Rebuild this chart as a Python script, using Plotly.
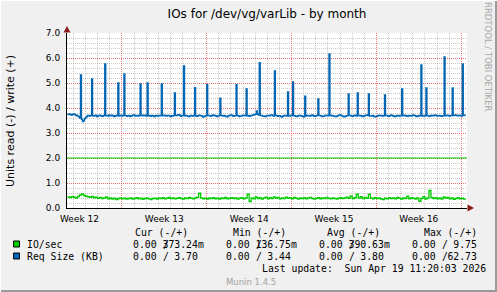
import pandas as pd
import plotly.graph_objects as go

# ---------------- data ----------------
TITLE = "IOs for /dev/vg/varLib - by month"
Y_TITLE = "Units read (-) / write (+)"
FIRST_SAMPLE = "2026-03-17 12:00"
REQ_FREQ = "2h"
IO_FREQ = "4h"
X_RANGE = ["2026-03-17 11:20", "2026-04-19 11:20"]

week_labels = ["Week 12", "Week 13", "Week 14", "Week 15", "Week 16"]
week_label_pos = ["2026-03-18 12:00", "2026-03-25 12:00", "2026-04-01 12:00",
                  "2026-04-08 12:00", "2026-04-15 12:00"]
week_starts = ["2026-03-22", "2026-03-29", "2026-04-05", "2026-04-12", "2026-04-19"]
y_ticks = [0, 1, 2, 3, 4, 5, 6, 7]

req_size_write = [
    3.74, 3.75, 3.76, 3.73, 3.72, 3.75, 3.76, 3.74, 3.70, 3.71,
    3.68, 3.66, 3.60, 5.32, 3.55, 3.46, 3.50, 3.58, 3.62, 3.66,
    3.70, 3.69, 3.68, 3.70, 5.16, 3.69, 3.68, 3.70, 3.71, 3.66,
    3.68, 3.70, 3.71, 3.69, 3.67, 3.68, 3.70, 5.76, 3.70, 3.69,
    3.68, 3.72, 3.70, 3.69, 3.71, 3.69, 3.66, 3.68, 3.70, 3.69,
    5.00, 3.68, 3.70, 3.71, 3.68, 3.70, 5.36, 3.70, 3.69, 3.67,
    3.69, 3.70, 3.66, 3.68, 3.70, 3.72, 3.71, 3.68, 3.69, 3.70,
    3.68, 3.70, 4.96, 3.70, 3.71, 3.69, 3.70, 3.71, 3.68, 5.00,
    3.69, 3.70, 3.67, 3.69, 3.70, 3.68, 3.66, 3.69, 3.70, 3.68,
    3.70, 3.69, 3.70, 4.96, 3.69, 3.70, 3.71, 3.69, 3.68, 3.70,
    3.70, 3.68, 3.66, 3.69, 3.68, 3.70, 4.60, 3.70, 3.70, 3.72,
    3.73, 3.71, 3.67, 3.69, 3.70, 5.68, 3.69, 3.70, 3.69, 3.67,
    3.66, 3.68, 3.70, 3.69, 3.68, 3.70, 4.81, 3.68, 3.67, 3.69,
    3.71, 3.70, 3.69, 3.68, 3.64, 3.66, 3.68, 3.69, 4.93, 3.70,
    3.70, 3.69, 3.67, 3.70, 3.72, 3.71, 3.69, 3.68, 3.66, 3.68,
    3.70, 4.39, 3.70, 3.69, 3.68, 3.70, 3.68, 3.66, 3.65, 3.68,
    3.70, 3.71, 3.72, 3.70, 3.67, 3.69, 3.69, 4.93, 3.70, 3.69,
    3.66, 3.68, 3.68, 3.70, 3.71, 3.70, 3.69, 4.76, 3.69, 3.70,
    3.67, 3.69, 3.70, 3.71, 3.72, 3.74, 3.75, 3.88, 3.76, 3.72,
    5.81, 3.70, 3.70, 3.68, 3.68, 3.66, 3.66, 3.70, 3.70, 3.69,
    3.69, 3.72, 3.72, 3.70, 3.68, 5.48, 3.70, 3.70, 3.67, 3.69,
    3.69, 3.66, 3.64, 3.67, 3.70, 3.69, 3.70, 3.68, 4.64, 3.68,
    3.68, 3.71, 3.70, 5.04, 3.69, 3.69, 3.67, 3.66, 3.68, 3.70,
    3.70, 3.69, 3.68, 3.66, 3.65, 4.47, 3.68, 3.70, 3.70, 3.69,
    3.68, 3.70, 3.72, 3.70, 3.67, 3.68, 3.69, 3.70, 4.36, 3.70,
    3.70, 3.68, 3.66, 3.67, 3.68, 3.70, 3.71, 3.70, 3.69, 6.16,
    3.70, 3.69, 3.70, 3.68, 3.68, 3.66, 3.66, 3.69, 3.70, 3.72,
    3.72, 3.70, 3.68, 3.66, 3.65, 3.67, 3.69, 3.70, 4.56, 3.70,
    3.70, 3.68, 3.67, 3.69, 3.71, 3.70, 3.68, 4.60, 3.70, 3.69,
    3.70, 3.68, 3.66, 3.68, 3.69, 3.71, 3.72, 3.70, 4.56, 3.68,
    3.68, 3.69, 3.70, 3.67, 3.65, 3.66, 3.67, 3.69, 3.71, 3.70,
    3.69, 3.70, 3.68, 3.69, 4.52, 3.70, 3.70, 3.68, 3.67, 3.69,
    3.72, 3.71, 3.69, 3.67, 3.66, 3.68, 3.70, 3.69, 3.68, 3.70,
    3.69, 4.76, 3.69, 3.70, 3.71, 3.69, 3.67, 3.68, 3.70, 3.69,
    3.68, 3.70, 3.72, 3.71, 3.69, 3.67, 3.66, 3.68, 3.70, 3.69,
    5.72, 3.68, 3.69, 3.70, 3.68, 4.80, 3.70, 3.69, 3.67, 3.68,
    3.71, 3.70, 3.69, 3.70, 3.72, 3.70, 3.68, 3.69, 3.70, 3.69,
    3.67, 3.68, 3.69, 6.04, 3.69, 3.70, 3.71, 3.70, 3.68, 3.69,
    3.70, 4.80, 3.70, 3.71, 3.72, 3.70, 3.69, 3.70, 3.71, 3.69,
    3.68, 5.76, 3.70, 3.71, 3.70,
]

io_sec_write = [
    0.44, 0.42, 0.45, 0.43, 0.40, 0.46, 0.52, 0.56, 0.50, 0.47,
    0.45, 0.43, 0.46, 0.41, 0.43, 0.39, 0.42, 0.38, 0.40, 0.44,
    0.37, 0.40, 0.36, 0.39, 0.34, 0.38, 0.40, 0.37, 0.39, 0.36,
    0.38, 0.40, 0.36, 0.38, 0.41, 0.37, 0.39, 0.35, 0.38, 0.40,
    0.37, 0.34, 0.38, 0.39, 0.36, 0.40, 0.38, 0.41, 0.37, 0.39,
    0.42, 0.38, 0.40, 0.37, 0.39, 0.41, 0.38, 0.36, 0.40, 0.38,
    0.42, 0.39, 0.37, 0.40, 0.43, 0.59, 0.40, 0.37, 0.39, 0.36,
    0.40, 0.38, 0.41, 0.37, 0.39, 0.36, 0.40, 0.38, 0.42, 0.37,
    0.39, 0.41, 0.38, 0.40, 0.36, 0.39, 0.41, 0.37, 0.40, 0.55,
    0.26, 0.40, 0.37, 0.44, 0.38, 0.41, 0.36, 0.40, 0.43, 0.37,
    0.41, 0.38, 0.44, 0.39, 0.42, 0.37, 0.40, 0.38, 0.43, 0.39,
    0.41, 0.37, 0.42, 0.39, 0.36, 0.40, 0.38, 0.41, 0.37, 0.40,
    0.42, 0.38, 0.36, 0.39, 0.41, 0.37, 0.40, 0.38, 0.42, 0.39,
    0.37, 0.40, 0.38, 0.36, 0.39, 0.41, 0.38, 0.40, 0.43, 0.39,
    0.48, 0.38, 0.41, 0.55, 0.40, 0.45, 0.38, 0.42, 0.39, 0.55,
    0.40, 0.37, 0.41, 0.38, 0.40, 0.36, 0.34, 0.39, 0.37, 0.41,
    0.38, 0.40, 0.37, 0.42, 0.39, 0.36, 0.40, 0.38, 0.47, 0.37,
    0.41, 0.39, 0.36, 0.40, 0.27, 0.38, 0.45, 0.36, 0.40, 0.70,
    0.42, 0.38, 0.41, 0.37, 0.40, 0.36, 0.44, 0.39, 0.42, 0.37,
    0.40, 0.35, 0.38, 0.41, 0.37, 0.39, 0.36, 0.37,
]

rule_level = 2.0

legend_names = ["IO/sec", "Req Size (KB)"]
legend_colors = ["#00CC00", "#0066B3"]
col_headers = ["Cur (-/+)", "Min (-/+)", "Avg (-/+)", "Max (-/+)"]
read_vals = [["0.00", "0.00", "0.00", "0.00"], ["0.00", "0.00", "0.00", "0.00"]]
write_vals = [["373.24m", "136.75m", "390.63m", "9.75"],
              ["3.70", "3.44", "3.80", "62.73"]]
LAST_UPDATE = "Last update:  Sun Apr 19 11:20:03 2026"
MUNIN = "Munin 1.4.5"
RRD_CREDIT = "RRDTOOL / TOBI OETIKER"

# ---------------- geometry helpers (pixel -> paper) ----------------
W, H = 497, 292
L, R, T, B = 67, 30, 33, 84
PW, PH = W - L - R, H - T - B


def px(x):
    return (x - L) / PW


def py(y):
    return (H - B - y) / PH


SANS = "DejaVu Sans"
MONO = "DejaVu Sans Mono"
MINOR_GRID = "rgba(150,150,150,0.5)"
MAJOR_GRID = "rgba(240,70,70,0.7)"

req_times = pd.date_range(FIRST_SAMPLE, periods=len(req_size_write), freq=REQ_FREQ)
io_times = pd.date_range(FIRST_SAMPLE, periods=len(io_sec_write), freq=IO_FREQ)
days = pd.date_range("2026-03-18", "2026-04-19", freq="D")
minor_days = [d for d in days if d.strftime("%Y-%m-%d") not in week_starts]

fig = go.Figure()
fig.add_trace(go.Scatter(x=[X_RANGE[0], X_RANGE[1]], y=[rule_level, rule_level],
                         mode="lines", line=dict(color=legend_colors[0], width=1.2),
                         xaxis="x2", yaxis="y", hoverinfo="skip", showlegend=False))
fig.add_trace(go.Scatter(x=io_times, y=io_sec_write, mode="lines", line_shape="hv",
                         line=dict(color=legend_colors[0], width=1.3),
                         hoverinfo="skip", showlegend=False))
fig.add_trace(go.Scatter(x=req_times, y=req_size_write, mode="lines", line_shape="hv",
                         line=dict(color=legend_colors[1], width=1.3),
                         hoverinfo="skip", showlegend=False))

fig.update_layout(
    width=W, height=H, autosize=False,
    margin=dict(l=L, r=R, t=T, b=B, pad=0),
    paper_bgcolor="#F0F0F0", plot_bgcolor="#FFFFFF",
    showlegend=False, hovermode=False,
    title=dict(text=TITLE, x=0.5, xref="paper", xanchor="center",
               y=1 - 14 / H, yref="container", yanchor="middle",
               font=dict(family=SANS, size=12, color="#000000")),
    xaxis=dict(type="date", range=X_RANGE, tickmode="array", tickvals=week_starts,
               ticktext=["" for _ in week_starts], showticklabels=False,
               showgrid=True, gridcolor=MAJOR_GRID, griddash="1px,1px", gridwidth=1,
               ticks="", zeroline=False,
               showline=True, linecolor="#000000", linewidth=1,
               minor=dict(tickmode="array", tickvals=minor_days, showgrid=True,
                          gridcolor=MINOR_GRID, griddash="1px,1px", gridwidth=1, ticks="")),
    xaxis2=dict(type="date", overlaying="x", matches="x", anchor="y", side="bottom",
                tickmode="array", tickvals=week_label_pos, ticktext=week_labels,
                showgrid=False, zeroline=False, ticks="outside", ticklen=2,
                tickcolor="rgba(0,0,0,0)",
                tickfont=dict(family=SANS, size=9, color="#000000")),
    yaxis=dict(range=[0, 7], tickmode="array", tickvals=y_ticks,
               ticktext=[f"{v:.1f}" for v in y_ticks],
               showgrid=True, gridcolor=MAJOR_GRID, griddash="1px,1px", gridwidth=1,
               zeroline=False, showline=True, linecolor="#000000", linewidth=1,
               ticks="outside", ticklen=4, tickcolor="rgba(0,0,0,0)",
               tickfont=dict(family=SANS, size=9, color="#000000"),
               minor=dict(dtick=0.2, showgrid=True, gridcolor=MINOR_GRID,
                          griddash="1px,1px", gridwidth=1, ticks="")),
)

shapes = []
annotations = []

# axis arrows
shapes.append(dict(type="path", xref="paper", yref="paper",
                   path=f"M {px(63.5)} {py(32.5)} L {px(70.5)} {py(32.5)} L {px(67)} {py(26)} Z",
                   fillcolor="#8B1A1A", line=dict(width=0)))
shapes.append(dict(type="path", xref="paper", yref="paper",
                   path=f"M {px(467.5)} {py(204.5)} L {px(467.5)} {py(211.5)} L {px(474)} {py(208)} Z",
                   fillcolor="#8B1A1A", line=dict(width=0)))
# frame shading
shapes.append(dict(type="line", xref="paper", yref="paper", x0=px(0), x1=px(W),
                   y0=py(H - 1), y1=py(H - 1), line=dict(color="#9A9A9A", width=2)))
shapes.append(dict(type="line", xref="paper", yref="paper", x0=px(W - 1), x1=px(W - 1),
                   y0=py(0), y1=py(H), line=dict(color="#9A9A9A", width=2)))
shapes.append(dict(type="line", xref="paper", yref="paper", x0=px(0), x1=px(W),
                   y0=py(0.5), y1=py(0.5), line=dict(color="#FFFFFF", width=1)))
shapes.append(dict(type="line", xref="paper", yref="paper", x0=px(0.5), x1=px(0.5),
                   y0=py(0), y1=py(H), line=dict(color="#FFFFFF", width=1)))


def text(x, y, s, font, size, color="#000000", anchor="left", angle=0):
    annotations.append(dict(x=px(x), y=py(y), xref="paper", yref="paper", text=s,
                            showarrow=False, xanchor=anchor, yanchor="middle",
                            textangle=angle, borderpad=0,
                            font=dict(family=font, size=size, color=color)))


def nb(s):
    return s.replace(" ", "\u00a0")


# y axis title and credit
text(10, 121, Y_TITLE, SANS, 11, anchor="center", angle=-90)
text(488, 57, RRD_CREDIT, SANS, 8.5, color="#A8A8A8", anchor="center", angle=90)

# legend
CHAR = 5.96
col_x = [131.7, 225.0, 317.7, 411.0]
head_x = [134.3, 231.7, 326.0, 422.7]
row_y = [244.5, 256.5]
for cx, h in zip(head_x, col_headers):
    text(cx, 232, nb(h), MONO, 9.8)
for r, (name, color) in enumerate(zip(legend_names, legend_colors)):
    y = row_y[r]
    shapes.append(dict(type="rect", xref="paper", yref="paper",
                       x0=px(13.5), x1=px(19.5), y0=py(y - 3.5), y1=py(y + 2.5),
                       fillcolor=color, line=dict(color="#000000", width=1)))
    text(26.0, y, nb(name), MONO, 9.8)
    for c in range(4):
        w = write_vals[r][c]
        num = w.rstrip("m")
        suffix = w[len(num):]
        s = read_vals[r][c] + " " + num.rjust(6) + suffix
        text(col_x[c], y, nb(s), MONO, 9.8)
        text(col_x[c] + 5 * CHAR, y, "/", MONO, 9.8)
text(261.0, 268, nb(LAST_UPDATE), MONO, 9.8)
text(225.0, 281.5, MUNIN, SANS, 8.5, color="#A0A0A0")

fig.update_layout(shapes=shapes, annotations=annotations)
fig.write_html("out.html", config={"displayModeBar": False, "staticPlot": True})
